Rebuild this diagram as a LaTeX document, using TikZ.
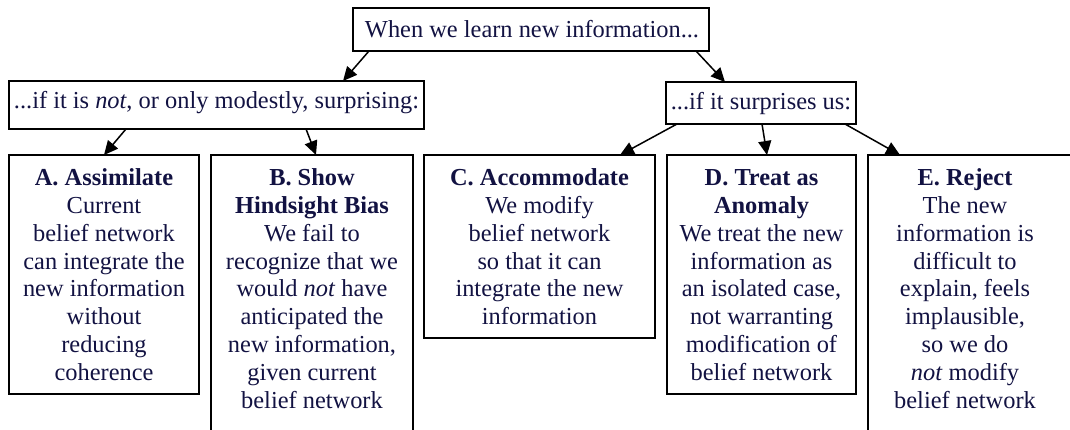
\documentclass[tikz,border=0pt]{standalone}
\usepackage{fontspec}
\setmainfont{Liberation Serif}
\usetikzlibrary{arrows.meta,calc}
\definecolor{ink}{RGB}{18,18,66}
\begin{document}
\begin{tikzpicture}[x=1pt,y=-1pt,
  box/.style={draw=black,line width=1.4pt,rectangle,inner sep=0pt,outer sep=0pt,anchor=north west},
  txt/.style={text=ink,inner sep=0pt,font=\fontsize{24.4}{27.8}\selectfont,align=center},
  arr/.style={-{Triangle[length=14pt,width=13pt]},line width=1.5pt}]
\useasboundingbox (0,0) rectangle (1070,430);
\clip (0,0) rectangle (1070,430);
% boxes
\node[box,minimum width=356pt,minimum height=43pt] (top) at (353,8) {};
\node[box,minimum width=415pt,minimum height=48pt] (L) at (9,81) {};
\node[box,minimum width=190pt,minimum height=42pt] (R) at (666,82) {};
\node[box,minimum width=190pt,minimum height=239pt] (A) at (9,155) {};
\node[box,minimum width=202pt,minimum height=295pt] (B) at (211,155) {};
\node[box,minimum width=231pt,minimum height=183pt] (C) at (424,155) {};
\node[box,minimum width=189pt,minimum height=239pt] (D) at (667,155) {};
\node[box,minimum width=212pt,minimum height=295pt] (E) at (868,155) {};
% texts
\node[txt,anchor=base] (topT) at (532,37.7) {When we learn new information...};
\node[txt,anchor=base] (LT) at (216.5,109) {...if it is \textit{not}, or only modestly, surprising:};
\node[txt,anchor=base] (RT) at (761,110) {...if it surprises us:};
\node[txt,anchor=north] (AT) at (104,166) {\strut\textbf{A. Assimilate}\\Current\\belief network\\can integrate the\\new information\\without\\reducing\\coherence};
\node[txt,anchor=north] (BT) at (312,166) {\strut\textbf{B. Show}\\\textbf{Hindsight Bias}\\We fail to\\recognize that we\\would \textit{not} have\\anticipated the\\new information,\\given current\\belief network};
\node[txt,anchor=north] (CT) at (539.5,166) {\strut\textbf{C. Accommodate}\\We modify\\belief network\\so that it can\\integrate the new\\information};
\node[txt,anchor=north] (DT) at (761.5,166) {\strut\textbf{D. Treat as}\\\textbf{Anomaly}\\We treat the new\\information as\\an isolated case,\\not warranting\\modification of\\belief network};
\node[txt,anchor=north] (ET) at (965,166) {\strut\textbf{E. Reject}\\The new\\information is\\difficult to\\explain, feels\\implausible,\\so we do\\\textit{not} modify\\belief network};
% arrows
\draw[arr] ([xshift=16pt]top.south west) -- ([xshift=334pt]L.north west);
\draw[arr] ([xshift=-13pt]top.south east) -- ([xshift=59pt]R.north west);
\draw[arr] ([xshift=117pt]L.south west) -- ([xshift=95pt]A.north west);
\draw[arr] ([xshift=297pt]L.south west) -- ([xshift=105pt]B.north west);
\draw[arr] ([xshift=11pt]R.south west) -- ([xshift=196pt]C.north west);
\draw[arr] ([xshift=96pt]R.south west) -- ([xshift=100pt]D.north west);
\draw[arr] ([xshift=179pt]R.south west) -- ([xshift=32pt]E.north west);
\end{tikzpicture}
\end{document}
